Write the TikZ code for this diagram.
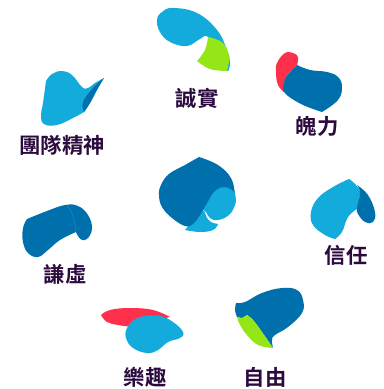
\documentclass[tikz,border=0pt]{standalone}
\usepackage{fontspec}
\setmainfont{Liberation Sans}
\newfontfamily\cjkfont{Noto Sans CJK TC}[BoldFont={* Bold}]
\definecolor{skyblue}{HTML}{12ABDB}
\definecolor{deepblue}{HTML}{0070AD}
\definecolor{limegreen}{HTML}{95E616}
\definecolor{coralred}{HTML}{FF304C}
\definecolor{darkplum}{HTML}{2B0A3D}
\tikzset{
	trait/.style={text=darkplum,font=\cjkfont\bfseries\fontsize{16}{16}\selectfont,inner sep=0pt},
	curve/.style={smooth,tension=.7}
}
\begin{document}
\begin{tikzpicture}[x=0.75pt,y=-0.75pt]
	\useasboundingbox (0,0) rectangle (384,389);
	% sincerity
	\fill[skyblue] plot[smooth cycle,tension=.7] coordinates {(157,20) (162,12) (173,8) (197,13) (217,30) (227,50) (230,63) (227,71) (222,55) (208,37) (200,39) (187,46) (170,42) (160,32)};
	\fill[limegreen] plot[curve] coordinates {(208,37) (223,43) (229,57) (227,71)} -- plot[curve] coordinates {(227,71) (210,69) (197,61)} -- plot[curve] coordinates {(197,61) (205,50) (208,37)} -- cycle;
	\node[trait] (sincerity) at (197,98) {誠實};
	% courage
	\fill[coralred] plot[curve] coordinates {(297,65) (298,57) (293,53) (285,53) (277,63) (276,73) (278,85) (284,92)} -- plot[curve] coordinates {(284,92) (286,77) (297,65)} -- cycle;
	\fill[deepblue] plot[curve] coordinates {(297,65) (310,70) (327,72) (338,77) (342,87) (338,100) (322,112)} -- plot[curve] coordinates {(322,112) (303,105) (288,96) (283,90)} -- plot[curve] coordinates {(283,90) (286,77) (297,65)} -- cycle;
	\node[trait] (courage) at (317,126) {魄力};
	% teamwork
	\fill[skyblue] plot[curve] coordinates {(46,81) (52,74) (62,71) (72,75) (82,87) (88,88) (95,83) (104,78)} -- plot[curve] coordinates {(104,78) (98,88) (90,103) (84,112)} -- plot[curve] coordinates {(84,112) (73,118) (57,125) (44,124) (41,115) (43,103) (46,81)} -- cycle;
	\fill[deepblue] plot[curve] coordinates {(104,78) (98,88) (90,103) (84,112)} -- plot[curve] coordinates {(84,112) (83,102) (93,88) (104,78)} -- cycle;
	\node[trait] (teamwork) at (62,145) {團隊精神};
	% trust
	\fill[skyblue] plot[curve] coordinates {(349,179) (333,187) (318,198) (311,212) (313,225) (325,235) (335,239)} -- plot[curve] coordinates {(335,239) (342,232) (348,217) (357,209)} -- plot[curve] coordinates {(357,209) (360,193) (356,185) (349,179)} -- cycle;
	\fill[deepblue] plot[curve] coordinates {(357,185) (368,195) (375,212) (373,222) (365,222) (358,214) (357,208) (360,193) (357,185)} -- cycle;
	\node[trait] (trust) at (346,255) {信任};
	% humility
	\fill[deepblue] plot[curve] coordinates {(27,219) (47,211) (65,205) (78,206) (88,215) (92,228) (88,238) (82,240) (78,236) (76,232)} -- plot[curve] coordinates {(76,232) (60,240) (48,250) (38,257) (28,253) (23,242) (23,228) (27,219)} -- cycle;
	\draw[skyblue,opacity=.6,line width=.4pt] plot[curve] coordinates {(67,205) (73,216) (76,232)};
	\node[trait] (humility) at (65,274) {謙虛};
	% joy
	\fill[coralred] plot[curve] coordinates {(101,315) (110,310) (130,308) (153,310) (170,317)} -- plot[curve] coordinates {(170,317) (150,322) (133,327)} -- plot[curve] coordinates {(133,327) (118,325) (107,322) (101,315)} -- cycle;
	\fill[skyblue] plot[smooth cycle,tension=.7] coordinates {(134,320) (145,316) (160,316) (173,322) (183,332) (180,338) (168,342) (158,350) (147,353) (133,348) (126,338) (127,328)};
	\node[trait] (joy) at (145,377) {樂趣};
	% freedom
	\fill[deepblue] plot[curve] coordinates {(236,303) (245,302) (262,293) (282,288) (297,290) (303,300) (302,313) (288,327) (275,335) (272,340) (273,348)} -- plot[curve] coordinates {(273,348) (262,332) (253,320) (247,315)} -- (242,318) -- (237,317) -- plot[curve] coordinates {(237,317) (235,310) (236,303)} -- cycle;
	\fill[limegreen] plot[curve] coordinates {(273,348) (258,345) (247,335) (240,325) (237,317)} -- plot[curve] coordinates {(237,317) (242,318) (247,315)} -- plot[curve] coordinates {(247,315) (253,320) (262,332) (273,348)} -- cycle;
	\node[trait] (freedom) at (265,377) {自由};
	% centre spade
	\fill[skyblue] plot[smooth cycle,tension=.7] coordinates {(231,186) (235.5,196) (235,205) (229,215) (218,220) (210,218) (206,212) (202,205) (215,186)};
	\fill[skyblue] plot[curve] coordinates {(205,212) (206.5,217) (211,222) (218,224)} -- plot[curve] coordinates {(218,224) (213,230) (200,232) (185,230)} -- plot[curve] coordinates {(185,230) (192,221) (200,208)} -- cycle;
	\fill[deepblue] plot[curve] coordinates {(199,157) (185,165) (169,174) (161,185) (159,195) (162,207) (172,218) (185,226) (193,224) (200,215) (207,203) (215,191) (225,187) (234.5,192)} -- plot[curve] coordinates {(234.5,192) (231,178) (218,165) (199,157)} -- cycle;
\end{tikzpicture}
\end{document}
